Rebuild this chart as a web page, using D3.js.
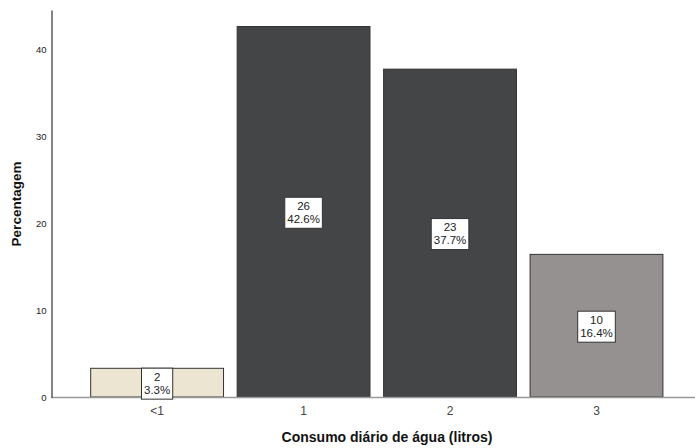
<!DOCTYPE html>
<html><head><meta charset="utf-8">
<script src="https://cdn.jsdelivr.net/npm/d3@7"></script>
<style>
body{margin:0;background:#fff;}
svg{display:block;font-family:Arial,"Liberation Sans",sans-serif;}
</style></head>
<body>
<svg id="chart" width="695" height="448"></svg>
<script>
const categories = ["<1", "1", "2", "3"];
const counts = [2, 26, 23, 10];
const percents = [3.3, 42.6, 37.7, 16.4];
const yTicks = [0, 10, 20, 30, 40];

const svg = d3.select("#chart");
const x = d3.scaleBand().domain(categories).range([83.8, 669.8]).paddingInner(0.093).paddingOuter(0.047);
const y = d3.scaleLinear().domain([0, 44.5]).range([397, 10]);
const color = d3.scaleOrdinal().domain(categories).range(["#ebe5d1", "#444547", "#444547", "#959190"]);

const data = categories.map((c, i) => ({c, n: counts[i], p: percents[i]}));

// bars
svg.selectAll("rect.bar").data(data).join("rect")
  .attr("class", "bar")
  .attr("x", d => x(d.c))
  .attr("y", d => y(d.p))
  .attr("width", x.bandwidth())
  .attr("height", d => y(0) - y(d.p))
  .attr("fill", d => color(d.c))
  .attr("stroke", "#333")
  .attr("stroke-width", 1);

// x baseline
svg.append("line").attr("x1", 51).attr("x2", 695).attr("y1", y(0) + 0.5).attr("y2", y(0) + 0.5)
  .attr("stroke", "#999").attr("stroke-width", 1.5);

// y axis
const yAxis = d3.axisLeft(y).tickValues(yTicks).tickSize(0).tickPadding(5).tickFormat(d3.format("d"));
const gy = svg.append("g").attr("transform", "translate(51.5,0)").call(yAxis);
gy.select(".domain").attr("stroke", "#333").attr("stroke-width", 1.2);
gy.selectAll("text").attr("font-size", 9.5).attr("fill", "#222").attr("font-family", "Arial, 'Liberation Sans', sans-serif");

// x axis labels
const xAxis = d3.axisBottom(x).tickSize(0).tickPadding(9);
const gx = svg.append("g").attr("transform", `translate(0,${y(0)})`).call(xAxis);
gx.select(".domain").remove();
gx.selectAll("text").attr("font-size", 12).attr("fill", "#444").attr("font-family", "Arial, 'Liberation Sans', sans-serif");

// labels
const lab = svg.selectAll("g.lab").data(data).join("g").attr("class", "lab")
  .attr("transform", d => `translate(${x(d.c) + x.bandwidth() / 2},${(y(d.p) + y(0)) / 2 + 1})`);
lab.each(function(d) {
  const g = d3.select(this);
  const t1 = g.append("text").attr("text-anchor", "middle").attr("y", -3).attr("font-size", 11.5).attr("fill", "#222").text(d.n);
  const t2 = g.append("text").attr("text-anchor", "middle").attr("y", 10).attr("font-size", 11.5).attr("fill", "#222").text(d.p.toFixed(1) + "%");
  const w = Math.max(t1.node().getComputedTextLength(), t2.node().getComputedTextLength()) + 5;
  g.insert("rect", "text").attr("x", -w / 2).attr("y", -15.5).attr("width", w).attr("height", 31)
    .attr("fill", "#fff").attr("stroke", "#333").attr("stroke-width", 1);
});

// titles
svg.append("text").attr("x", 387).attr("y", 442).attr("text-anchor", "middle")
  .attr("font-size", 14).attr("font-weight", "bold").attr("fill", "#111")
  .text("Consumo diário de água (litros)");
svg.append("text").attr("transform", "translate(21,204) rotate(-90)").attr("text-anchor", "middle")
  .attr("font-size", 13.5).attr("font-weight", "bold").attr("fill", "#111")
  .text("Percentagem");
</script>
</body></html>
